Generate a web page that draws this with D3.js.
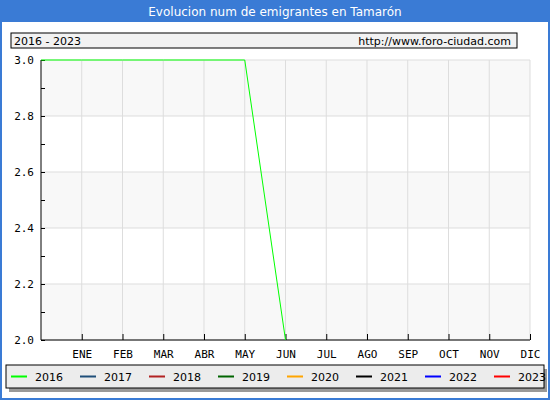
<!DOCTYPE html>
<html><head><meta charset="utf-8">
<script src="https://cdn.jsdelivr.net/npm/d3@7"></script>
<style>body{margin:0}svg{font-family:"DejaVu Sans",sans-serif;font-size:11px}</style>
</head><body><div></div>
<script>
const months = ['ENE','FEB','MAR','ABR','MAY','JUN','JUL','AGO','SEP','OCT','NOV','DIC'];
const years = ['2016','2017','2018','2019','2020','2021','2022','2023'];
const colors = ['#00ff00','#1f4e79','#b22222','#006400','#ffa500','#000000','#0000ff','#ff0000'];
const yTicks = [2.0, 2.2, 2.4, 2.6, 2.8, 3.0];
// index 0 = left edge, 1..12 = ENE..DIC
const series2016 = [3, 3, 3, 3, 3, 3, 2];

const w = 550, h = 400;
const pLeft = 41, pRight = 530, pTop = 60, pBottom = 340;

const svg = d3.select('div').append('svg').attr('width', w).attr('height', h);
svg.append('rect').attr('x',1).attr('y',1).attr('width',w-2).attr('height',h-2)
    .attr('fill','#fff').attr('stroke','#3a7bd5').attr('stroke-width',2);
svg.append('rect').attr('width',w).attr('height',22).attr('fill','#3a7bd5');
svg.append('text').attr('x',w/2).attr('y',16).attr('text-anchor','middle')
    .attr('fill','#fff').style('font-size','12px').text('Evolucion num de emigrantes en Tamarón');

svg.append('rect').attr('x',11).attr('y',33).attr('width',506).attr('height',15)
    .attr('fill','#f2f2f2').attr('stroke','#000');
svg.append('text').attr('x',14).attr('y',45).text('2016 - 2023');
svg.append('text').attr('x',511).attr('y',45).attr('text-anchor','end').text('http://www.foro-ciudad.com');

const x = d3.scaleLinear().domain([0, 12]).range([pLeft, pRight]);
const y = d3.scaleLinear().domain([2, 3]).range([pBottom, pTop]);

for (let i = 0; i < yTicks.length - 1; i++) {
    svg.append('rect').attr('x', pLeft).attr('width', pRight-pLeft)
        .attr('y', y(yTicks[i+1])).attr('height', y(yTicks[i]) - y(yTicks[i+1]))
        .attr('fill', i % 2 === 0 ? '#f8f8f8' : '#ffffff');
}
const grid = svg.append('g').attr('stroke','#dddddd');
months.forEach((m, i) => grid.append('line').attr('x1',x(i+1)).attr('x2',x(i+1)).attr('y1',pTop).attr('y2',pBottom));
yTicks.forEach(t => grid.append('line').attr('x1',pLeft).attr('x2',pRight).attr('y1',y(t)).attr('y2',y(t)));

svg.append('g').attr('transform','translate(0,'+pBottom+')')
    .call(d3.axisBottom(x).tickValues(d3.range(1,13)).tickFormat(d => months[d-1]).tickSize(-6).tickPadding(10))
    .call(g => g.select('.domain').remove())
    .call(g => g.selectAll('text').style('font-family','DejaVu Sans Mono, monospace').style('font-size','11px'));
svg.append('line').attr('x1',pLeft).attr('x2',pRight).attr('y1',pBottom).attr('y2',pBottom).attr('stroke','#000');

svg.append('g').attr('transform','translate('+pLeft+',0)')
    .call(d3.axisLeft(y).tickValues(d3.range(2, 3.01, 0.1)).tickFormat(d => yTicks.some(t => Math.abs(t-d) < 1e-6) ? d.toFixed(1) : '')
        .tickSize(-4).tickPadding(7))
    .call(g => g.select('.domain').attr('d','M0,'+pTop+'V'+pBottom))
    .call(g => g.selectAll('text').style('font-family','DejaVu Sans Mono, monospace').style('font-size','11px'));

svg.append('path').datum(series2016)
    .attr('d', d3.line().x((d,i) => x(i)).y(d => y(d)))
    .attr('fill','none').attr('stroke',colors[0]).attr('stroke-width',1);

svg.append('rect').attr('x',9).attr('y',369).attr('width',538).attr('height',23).attr('fill','#999');
svg.append('rect').attr('x',6).attr('y',365).attr('width',538).attr('height',23)
    .attr('fill','#ececec').attr('stroke','#000');
years.forEach((yr, i) => {
    const lx = 11 + i * 69;
    svg.append('line').attr('x1',lx).attr('x2',lx+16).attr('y1',376.5).attr('y2',376.5)
        .attr('stroke',colors[i]).attr('stroke-width',2);
    svg.append('text').attr('x',lx+24).attr('y',381).text(yr);
});
</script></body></html>
